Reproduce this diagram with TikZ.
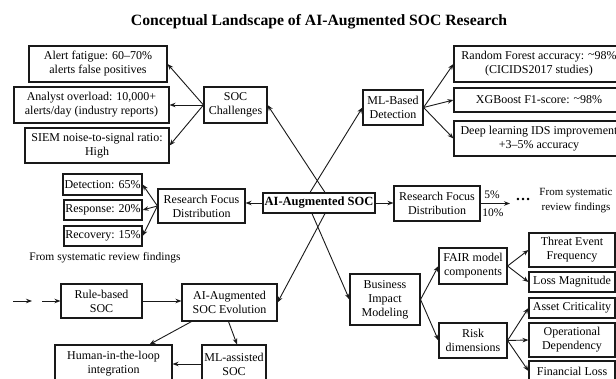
\documentclass[tikz,border=0pt]{standalone}
\usepackage{fontspec}
\setmainfont{Liberation Serif}
\usetikzlibrary{arrows.meta,calc}
\begin{document}
\begin{tikzpicture}[x=1pt,y=-1pt,
  box/.style={draw=black!90,line width=1.1pt,align=center,inner sep=1pt,
    font=\fontsize{12}{14}\selectfont,text=black},
  lbl/.style={align=center,inner sep=0pt,font=\fontsize{11.5}{13.5}\selectfont,text=black},
  arr/.style={draw=black!90,line width=0.9pt,-{Stealth[length=6pt,width=4.5pt]}},
  bw/.style 2 args={minimum width=#1pt,minimum height=#2pt}]
\clip (0,0) rectangle (616,379);
\fill[white] (0,0) rectangle (616,379);
\node[font=\fontsize{15.7}{18}\bfseries\selectfont,inner sep=0pt] (title) at (319,22) {Conceptual Landscape of AI-Augmented SOC Research};
% left top
\node[box,bw={138}{36}] (alert) at (98,64) {Alert fatigue: 60–70\%\\alerts false positives};
\node[box,bw={155}{36}] (analyst) at (91.5,105) {Analyst overload: 10,000+\\alerts/day (industry reports)};
\node[box,bw={144}{35}] (siem) at (97,145.5) {SIEM noise-to-signal ratio:\\High};
\node[box,bw={63}{36}] (soc) at (235.5,105) {SOC\\Challenges};
% research focus left
\node[box,bw={79}{21}] (det) at (102.5,184.5) {Detection: 65\%};
\node[box,bw={78}{20}] (resp) at (103,210) {Response: 20\%};
\node[box,bw={78}{20}] (rec) at (103,236) {Recovery: 15\%};
\node[box,bw={87}{34}] (rfdL) at (201.5,206) {Research Focus\\Distribution};
\node[lbl] (srcL) at (105,258) {From systematic review findings};
% center
\node[box,bw={112}{20},font=\fontsize{12.5}{14}\bfseries\selectfont] (center) at (319,203) {AI-Augmented SOC};
% evolution
\node[box,bw={81}{34}] (rule) at (101.5,301) {Rule-based\\SOC};
\node[box,bw={95}{37}] (evo) at (229.5,302.5) {AI-Augmented\\SOC Evolution};
\node[box,bw={117}{38}] (human) at (113.5,364) {Human-in-the-loop\\integration};
\node[box,bw={64}{38}] (mlas) at (234,364) {ML-assisted\\SOC};
\coordinate (a1) at (13,301);
\coordinate (a2) at (32,301);
\coordinate (a3) at (42,301);
% ML detection
\node[box,bw={60}{35}] (ml) at (393,107.5) {ML-Based\\Detection};
\node[box,bw={170}{36}] (rf) at (539,64) {Random Forest accuracy: {\raisebox{0.3ex}{\char"007E}}98\%\\(CICIDS2017 studies)};
\node[box,bw={170}{24}] (xgb) at (539,100) {XGBoost F1-score: {\raisebox{0.3ex}{\char"007E}}98\%};
\node[box,bw={170}{35}] (deep) at (539,138.5) {Deep learning IDS improvement\\+3–5\% accuracy};
% research focus right
\node[box,bw={86}{35}] (rfdR) at (437,203.5) {Research Focus\\Distribution};
\coordinate (rfdEnd) at (510,203.5);
\node[lbl] (p5) at (492,195) {5\%};
\node[lbl] (p10) at (493,213) {10\%};
\node[lbl,font=\fontsize{15}{15}\bfseries\selectfont] (dots) at (523,199) {…};
\node[lbl,font=\fontsize{11}{15}\selectfont] (srcR) at (576,200.5) {From systematic\\review findings};
% business impact
\node[box,bw={70}{51}] (bim) at (385,299.5) {Business\\Impact\\Modeling};
\node[box,bw={68}{36}] (fair) at (473,266) {FAIR model\\components};
\node[box,bw={68}{35}] (risk) at (473,340.5) {Risk\\dimensions};
\node[box,bw={86}{34}] (threat) at (572,250) {Threat Event\\Frequency};
\node[box,bw={86}{20}] (loss) at (572,282) {Loss Magnitude};
\node[box,bw={86}{20}] (asset) at (572,308) {Asset Criticality};
\node[box,bw={86}{34}] (oper) at (572,340) {Operational\\Dependency};
\node[box,bw={86}{20}] (fin) at (572,371) {Financial Loss};
% connectors
\draw[arr] (soc.west) -- (alert.east);
\draw[arr] (soc.west) -- (analyst.east);
\draw[arr] (soc.west) -- (siem.east);
\draw[arr] (rfdL.west) -- (det.east);
\draw[arr] (rfdL.west) -- (resp.east);
\draw[arr] (rfdL.west) -- (rec.east);
\draw[arr] ([xshift=6pt]center.north) -- (soc.east);
\draw[arr] ([xshift=-9pt]center.north) -- (ml.west);
\draw[arr] ([xshift=6pt]center.south) -- (evo.east);
\draw[arr] ([xshift=-7pt]center.south) -- (bim.west);
\draw[arr] (center.west) -- (center.west -| rfdL.east);
\draw[arr] (center.east) -- (center.east -| rfdR.west);
\draw[arr] (rfdR.east) -- (rfdEnd);
\draw[arr] (ml.east) -- (rf.west);
\draw[arr] (ml.east) -- (xgb.west);
\draw[arr] (ml.east) -- (deep.west);
\draw[arr] (a1) -- (a2);
\draw[arr] (a3) -- (rule.west);
\draw[arr] (rule.east) -- (rule.east -| evo.west);
\draw[arr] ([xshift=-38pt]evo.south) -- ([xshift=36pt]human.north);
\draw[arr] ([xshift=-1pt]evo.south) -- ([xshift=3pt]mlas.north);
\draw[arr] (mlas.west) -- (mlas.west -| human.east);
\draw[arr] (bim.east) -- (fair.west);
\draw[arr] (bim.east) -- (risk.west);
\draw[arr] (fair.east) -- (threat.west);
\draw[arr] (fair.east) -- (loss.west);
\draw[arr] (risk.east) -- (asset.west);
\draw[arr] (risk.east) -- (oper.west);
\draw[arr] (risk.east) -- (fin.west);
\end{tikzpicture}
\end{document}
